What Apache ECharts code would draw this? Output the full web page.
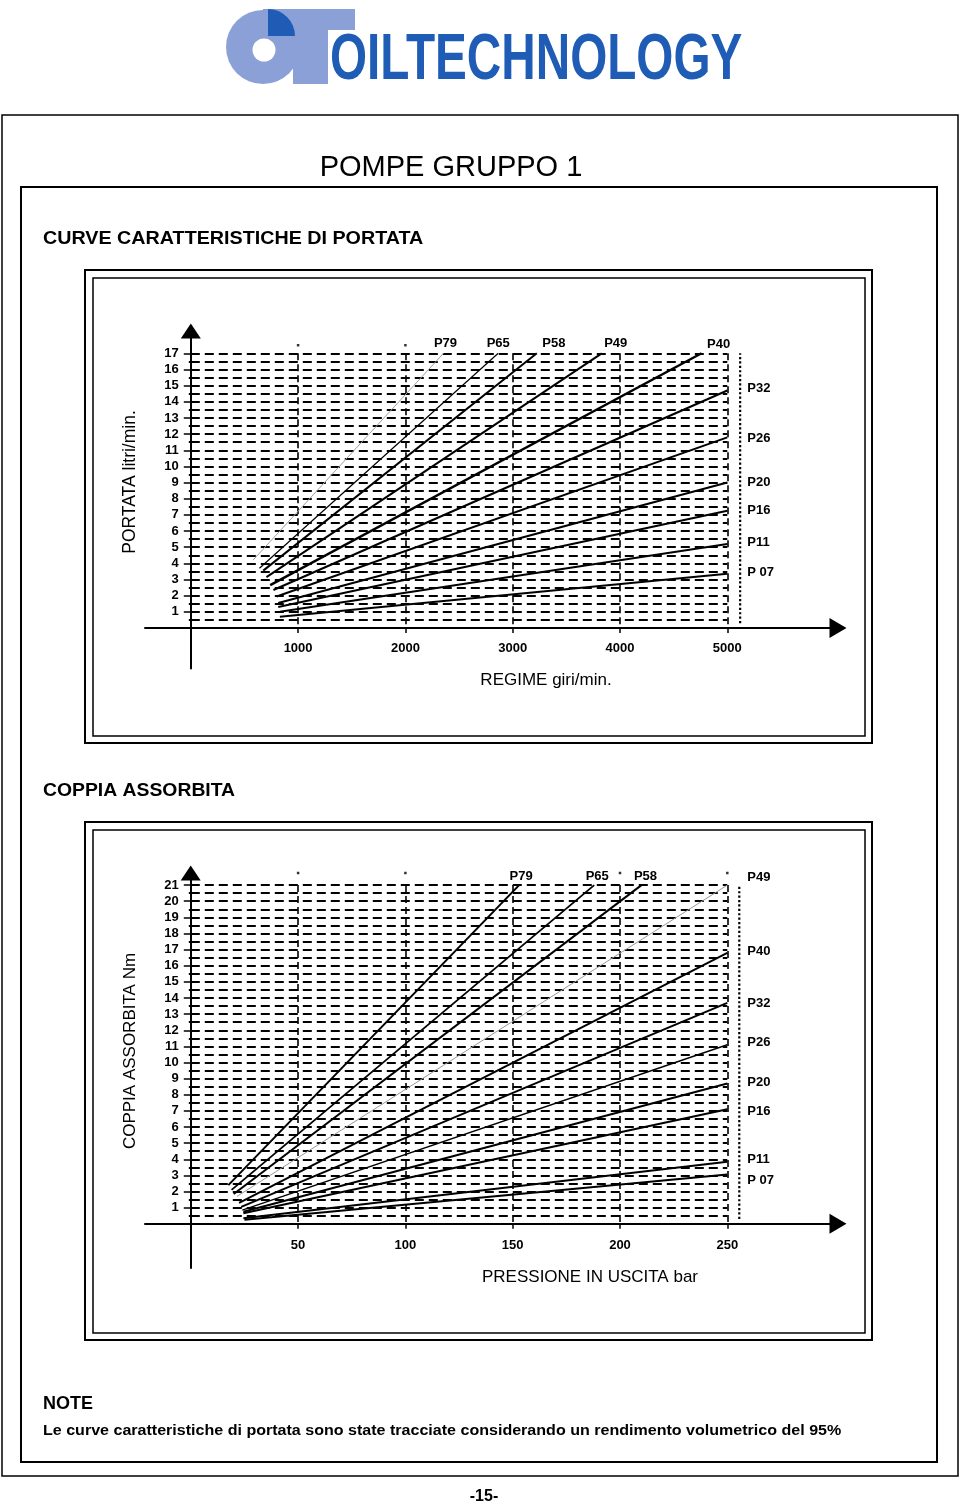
<!DOCTYPE html>
<html><head><meta charset="utf-8">
<script src="https://cdn.jsdelivr.net/npm/echarts@6/dist/echarts.min.js"></script>
<style>html,body{margin:0;padding:0;background:#fff}#c{width:960px;height:1507px}</style>
</head><body><div id="c"></div>
<script>
// ---------- DATA ----------
const pumpNames = ['P79','P65','P58','P49','P40','P32','P26','P20','P16','P11','P 07'];

// Chart 1: PORTATA (litri/min) vs REGIME (giri/min)
const flowStartRpm = [580, 640, 675, 705, 740, 770, 800, 815, 815, 830, 830];
const flowStartLpm = [4.2, 3.7, 3.55, 3.15, 2.65, 2.35, 1.95, 1.55, 1.3, 1.0, 0.7];
const flowEndRpm   = [2355, 2865, 3225, 3830, 4760, 5000, 5000, 5000, 5000, 5000, 5000];
const flowEndLpm   = [17, 17, 17, 17, 17, 14.7, 11.8, 9.0, 7.25, 5.2, 3.35];
const rpmTickLabels = [1000, 2000, 3000, 4000, 5000];
const flowTickLabels = [1,2,3,4,5,6,7,8,9,10,11,12,13,14,15,16,17];
const rpmLimit = [5120];
const rpmTopDots = [1000, 2000];

// Chart 2: COPPIA ASSORBITA (Nm) vs PRESSIONE (bar)
const torqueStartBar = [17.5, 19, 20, 21.5, 22.5, 23.5, 24, 24.5, 24.5, 24.5, 25];
const torqueStartNm  = [2.4, 2.1, 1.85, 1.7, 1.3, 1.05, 0.85, 0.75, 0.65, 0.35, 0.25];
const torqueEndBar   = [153, 188, 210, 250, 250, 250, 250, 250, 250, 250, 250];
const torqueEndNm    = [21, 21, 21, 21, 16.8, 13.7, 11.1, 8.7, 7.1, 3.85, 3.05];
const barTickLabels = [50, 100, 150, 200, 250];
const torqueTickLabels = [1,2,3,4,5,6,7,8,9,10,11,12,13,14,15,16,17,18,19,20,21];
const barLimit = [255.6];
const barTopDots = [50, 100, 200, 250];

// ---------- STYLES ----------
const F = "'Liberation Sans', Arial, Helvetica, sans-serif";
const flowWidths = [1, 1.2, 2, 2, 2.4, 2, 2, 2, 2, 2, 2];
const flowColors = ['#a0a0a0','#000','#000','#000','#000','#000','#000','#000','#000','#000','#000'];
const flowLabelLayout = [
  {pos:'top', dist:3, off:[2,0]}, {pos:'top', dist:3, off:[0,0]}, {pos:'top', dist:3, off:[17,0]},
  {pos:'top', dist:3, off:[14,0]}, {pos:'top', dist:2, off:[17,0]},
  {pos:'right', dist:20, off:[0,-2]}, {pos:'right', dist:20, off:[0,1]}, {pos:'right', dist:20, off:[0,0]},
  {pos:'right', dist:20, off:[0,0]}, {pos:'right', dist:20, off:[0,-2]}, {pos:'right', dist:20, off:[0,-1]}
];
const torqueWidths = [2, 1.8, 2, 1, 2, 2, 1.4, 2, 2, 2, 2];
const torqueColors = ['#000','#000','#000','#999','#000','#000','#000','#000','#000','#000','#000'];
const torqueLabelLayout = [
  {pos:'top', dist:2, off:[2,0]}, {pos:'top', dist:2, off:[3,0]}, {pos:'top', dist:2, off:[4,0]},
  {pos:'right', dist:20, off:[0,-8]}, {pos:'right', dist:20, off:[0,-1]}, {pos:'right', dist:20, off:[0,1]},
  {pos:'right', dist:20, off:[0,-2]}, {pos:'right', dist:20, off:[0,-1]}, {pos:'right', dist:20, off:[0,2]},
  {pos:'right', dist:20, off:[0,-2]}, {pos:'right', dist:20, off:[0,6]}
];

function buildLines(axisIdx, sx, sy, ex, ey, widths, colors, layouts) {
  return pumpNames.map((n, i) => ({
    type: 'line', name: n, xAxisIndex: axisIdx, yAxisIndex: axisIdx,
    symbol: 'circle', symbolSize: 0, showSymbol: true, clip: false, silent: true,
    lineStyle: {color: colors[i], width: widths[i]},
    itemStyle: {color: colors[i]},
    z: 5,
    data: [
      [sx[i], sy[i]],
      {value: [ex[i], ey[i]], label: {
        show: true, position: layouts[i].pos, distance: layouts[i].dist, offset: layouts[i].off,
        formatter: n, color: '#000', fontWeight: 'bold', fontSize: 13, fontFamily: F
      }}
    ]
  }));
}

// dotted limit line, drawn in the wide "axes" grid that contains it
function limitLine(axisIdx, xv, ytop) {
  return {
    type: 'line', xAxisIndex: axisIdx, yAxisIndex: axisIdx, silent: true,
    symbol: 'none', showSymbol: false, z: 4,
    lineStyle: {color: '#000', width: 2.2, type: 'dotted'},
    data: [[xv, 0.3], [xv, ytop]]
  };
}
function topDots(axisIdx, xs, yv) {
  return {
    type: 'scatter', xAxisIndex: axisIdx, yAxisIndex: axisIdx, clip: false, silent: true,
    symbol: 'rect', symbolSize: 2.5, itemStyle: {color: '#000'}, z: 4,
    data: xs.map(x => [x, yv])
  };
}

const dashH = {color: '#000', width: 2, type: [9, 5]};
const dashV = {color: '#000', width: 1.6, type: [7, 4]};

function dataXAxis(gi, max, interval, labels, margin) {
  return {
    type: 'value', gridIndex: gi, min: 0, max: max, interval: interval,
    axisLine: {show: false},
    axisTick: {show: true, length: 5, lineStyle: {color: '#000', width: 1.5}},
    axisLabel: {
      margin: margin, color: '#000', fontWeight: 'bold', fontSize: 13, fontFamily: F,
      formatter: v => labels.indexOf(v) >= 0 ? String(v) : ''
    },
    splitLine: {show: true, lineStyle: dashV}
  };
}
function dataYAxis(gi, max, labels) {
  return {
    type: 'value', gridIndex: gi, min: 0, max: max, interval: 1,
    axisLine: {show: false},
    axisTick: {show: true, length: 7, lineStyle: {color: '#000', width: 1.5}},
    minorTick: {show: true, splitNumber: 2, length: 2, lineStyle: {color: '#000', width: 2}},
    axisLabel: {
      margin: 12, color: '#000', fontWeight: 'bold', fontSize: 13, fontFamily: F,
      formatter: v => labels.indexOf(v) >= 0 ? String(v) : ''
    },
    splitLine: {show: true, lineStyle: dashH},
    minorSplitLine: {show: true, lineStyle: dashH}
  };
}
function arrowAxis(gi, min, max, type) {
  return {
    type: 'value', gridIndex: gi, min: min, max: max,
    axisLine: {show: true, onZero: true, symbol: ['none', 'triangle'],
      symbolSize: type === 'x' ? [20, 17] : [20, 15],
      lineStyle: {color: '#000', width: 2}},
    axisTick: {show: false}, axisLabel: {show: false}, splitLine: {show: false}
  };
}

const grids = [
  {left: 190.8, top: 353.3, width: 536.5, height: 274.7},   // chart1 data
  {left: 145, top: 331, width: 693, height: 337.4},         // chart1 axes
  {left: 190.8, top: 885.1, width: 536.5, height: 338.7},   // chart2 data
  {left: 145, top: 873, width: 693, height: 395}            // chart2 axes
];

const xAxes = [
  dataXAxis(0, 5000, 1000, rpmTickLabels, 14),
  arrowAxis(1, -427, 6032, 'x'),
  dataXAxis(2, 250, 50, barTickLabels, 15),
  arrowAxis(3, -21.3, 301.6, 'x')
];
const yAxes = [
  dataYAxis(0, 17, flowTickLabels),
  arrowAxis(1, -2.5, 18.38, 'y'),
  dataYAxis(2, 21, torqueTickLabels),
  arrowAxis(3, -2.74, 21.75, 'y')
];

const series = []
  .concat(buildLines(0, flowStartRpm, flowStartLpm, flowEndRpm, flowEndLpm, flowWidths, flowColors, flowLabelLayout))
  .concat([limitLine(1, rpmLimit[0], 17), topDots(0, rpmTopDots, 17.5)])
  .concat(buildLines(2, torqueStartBar, torqueStartNm, torqueEndBar, torqueEndNm, torqueWidths, torqueColors, torqueLabelLayout))
  .concat([limitLine(3, barLimit[0], 21), topDots(2, barTopDots, 21.75)]);

function txt(x, y, text, font, opts) {
  opts = opts || {};
  return {
    type: 'text', x: x, y: y, rotation: opts.rotation || 0, z: 10,
    scaleX: opts.scaleX || 1, scaleY: opts.scaleY || 1,
    style: {text: text, font: font, fill: opts.fill || '#000',
      align: opts.align || 'left', textAlign: opts.align || 'left',
      verticalAlign: 'middle', textVerticalAlign: 'middle'}
  };
}
function box(x, y, w, h, lw) {
  return {type: 'rect', shape: {x: x, y: y, width: w, height: h}, z: 1,
    style: {fill: null, stroke: '#000', lineWidth: lw}};
}

const LB = '#8ca0d8', DB = '#1f5cb6';
const graphics = [
  // logo
  {type: 'circle', shape: {cx: 263, cy: 47, r: 37}, style: {fill: LB}, z: 2},
  {type: 'rect', shape: {x: 263, y: 9, width: 92, height: 21}, style: {fill: LB}, z: 2},
  {type: 'rect', shape: {x: 293, y: 9, width: 35, height: 75}, style: {fill: LB}, z: 2},
  {type: 'sector', shape: {cx: 268, cy: 36, r: 27, r0: 0, startAngle: -Math.PI / 2, endAngle: 0, clockwise: true}, style: {fill: DB}, z: 3},
  {type: 'circle', shape: {cx: 264, cy: 50, r: 11.5}, style: {fill: '#fff'}, z: 4},
  txt(330, 61, 'OILTECHNOLOGY', 'bold 64px ' + F, {fill: DB, scaleX: 0.745}),
  // frames
  box(2, 115, 956, 1361, 1.5),
  box(21, 187, 916, 1275, 2),
  box(85, 270, 787, 473, 2), box(93, 278, 772, 458, 1.5),
  box(85, 822, 787, 518, 2), box(93, 830, 772, 503, 1.5),
  // texts
  txt(451, 168, 'POMPE GRUPPO 1', '29px ' + F, {align: 'center'}),
  txt(43, 239, 'CURVE CARATTERISTICHE DI PORTATA', 'bold 18px ' + F, {scaleX: 1.095}),
  txt(43, 791, 'COPPIA ASSORBITA', 'bold 18px ' + F, {scaleX: 1.075}),
  txt(130, 482, 'PORTATA litri/min.', '17.5px ' + F, {align: 'center', rotation: Math.PI / 2}),
  txt(546, 680, 'REGIME giri/min.', '17px ' + F, {align: 'center'}),
  txt(130, 1051, 'COPPIA ASSORBITA Nm', '17px ' + F, {align: 'center', rotation: Math.PI / 2}),
  txt(590, 1277, 'PRESSIONE IN USCITA bar', '17px ' + F, {align: 'center'}),
  txt(43, 1404, 'NOTE', 'bold 18px ' + F),
  txt(43, 1431, 'Le curve caratteristiche di portata sono state tracciate considerando un rendimento volumetrico del 95%', 'bold 15px ' + F, {scaleX: 1.07}),
  txt(484, 1497, '-15-', 'bold 16px ' + F, {align: 'center'})
];

const chart = echarts.init(document.getElementById('c'), null, {renderer: 'canvas'});
chart.setOption({
  animation: false,
  backgroundColor: '#fff',
  grid: grids,
  xAxis: xAxes,
  yAxis: yAxes,
  series: series,
  graphic: graphics
});
</script>
</body></html>
